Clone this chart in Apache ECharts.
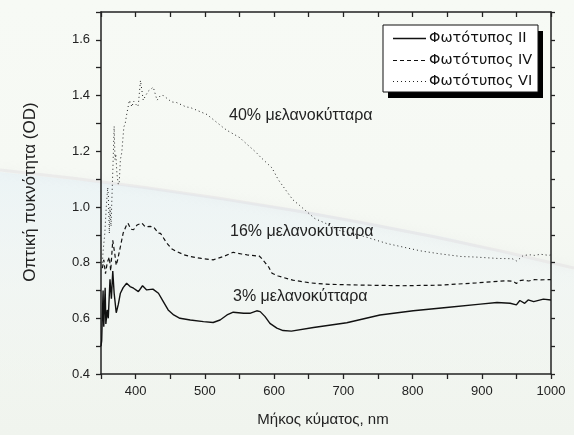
<!DOCTYPE html>
<html>
<head>
<meta charset="utf-8">
<script src="https://cdn.jsdelivr.net/npm/echarts@6/dist/echarts.min.js"></script>
<style>
html,body{margin:0;padding:0;background:#f6f9f4;}
#chart{width:574px;height:435px;}
</style>
</head>
<body>
<div id="chart"></div>
<script>
// ---- data ----
const seriesNames = ['Φωτότυπος II', 'Φωτότυπος IV', 'Φωτότυπος VI'];

const wlII = [350,351,353,354,356,357,359,360.5,363,365,367,369,372,375,378,382,387,392,397,404,410,416,425,433,440,447,455,464,479,498,512,522,532,541,556,565,575,580,587,594,604,613,625,657,705,753,801,849,898,922,941,950,955,962,967,975,989,1000];
const odII = [0.50,0.52,0.70,0.57,0.71,0.58,0.63,0.60,0.74,0.67,0.77,0.69,0.62,0.65,0.69,0.71,0.726,0.714,0.708,0.696,0.717,0.702,0.705,0.69,0.66,0.63,0.612,0.60,0.594,0.588,0.585,0.594,0.612,0.622,0.618,0.618,0.627,0.624,0.606,0.582,0.565,0.556,0.554,0.567,0.584,0.612,0.627,0.639,0.651,0.657,0.654,0.648,0.664,0.654,0.666,0.66,0.669,0.666];

const wlIV = [352,354,356.5,359,362,364,367,370,372,374,378,382,386,389,393,397,402,409,414,421,426,433,436,445,452,459,470,479,495,512,527,541,553,561,574,578,582,587,592,597,606,627,653,680,733,786,839,892,934,945,950,955,960,968,976,985,1000];
const odIV = [0.78,0.81,0.76,0.80,0.82,0.77,0.88,0.83,0.79,0.81,0.857,0.906,0.93,0.942,0.92,0.918,0.935,0.942,0.928,0.93,0.928,0.906,0.905,0.87,0.85,0.84,0.828,0.822,0.815,0.81,0.822,0.837,0.831,0.828,0.824,0.825,0.815,0.80,0.785,0.762,0.752,0.737,0.727,0.722,0.719,0.717,0.719,0.727,0.735,0.733,0.725,0.735,0.737,0.734,0.739,0.738,0.739];

const wlVI = [352,353,355.5,357.6,359.7,360.6,362,363,364.5,366,367.2,369,370.2,371.4,373,375,376.4,378,380,383,385,387.3,389.4,391,394.7,397,399,403,404,407,409,411,414,418.4,420,425.5,428,431,433,436,440,452,459,473,479,500,503,527,532,551,555,574,580,597,606,617,627,637,659,680,690,701,722,733,743,764,786,812,838,870,891,923,944,950,955,960,970,976,985,997,1000];
const odVI = [0.80,0.84,0.905,1.0,1.07,1.04,0.905,1.0,0.93,1.05,1.14,1.29,1.17,1.19,1.12,1.08,1.09,1.17,1.195,1.287,1.30,1.335,1.362,1.383,1.359,1.38,1.383,1.36,1.368,1.454,1.42,1.383,1.398,1.416,1.413,1.43,1.429,1.383,1.386,1.401,1.40,1.377,1.375,1.359,1.357,1.335,1.332,1.284,1.275,1.248,1.238,1.196,1.18,1.14,1.098,1.06,1.026,1.005,0.958,0.935,0.918,0.912,0.899,0.892,0.884,0.868,0.856,0.842,0.832,0.822,0.82,0.815,0.814,0.806,0.815,0.826,0.828,0.826,0.83,0.826,0.828];

const annotations = ['40% μελανοκύτταρα', '16% μελανοκύτταρα', '3% μελανοκύτταρα'];
const xTitle = 'Μήκος κύματος, nm';
const yTitle = 'Οπτική πυκνότητα (OD)';

// ---- chart ----
const zip = (a, b) => a.map((v, i) => [v, b[i]]);
const chart = echarts.init(document.getElementById('chart'), null, {renderer: 'canvas'});
const axisCol = '#222';
const tickFont = {fontFamily: 'Liberation Sans, Arial, sans-serif', fontSize: 13, color: '#222'};
const styles = [
  {color: '#111', width: 1.4, dash: null},
  {color: '#111', width: 1.2, dash: [4, 3]},
  {color: '#222', width: 1.0, dash: [1, 3]}
];
const lineBase = {type: 'line', symbol: 'none', smooth: false, animation: false, z: 5};
const annFont = '16px "Liberation Sans", Arial, sans-serif';

// manual legend (box with solid black drop shadow)
const lg = {x: 383, y: 25, w: 155, h: 67, rows: [38.5, 60.5, 81.5], lx1: 393, lx2: 426, tx: 429};
const legendEls = [
  {type: 'rect', z: 20, silent: true, shape: {x: lg.x + 5, y: lg.y + 6, width: lg.w, height: lg.h}, style: {fill: '#000'}},
  {type: 'rect', z: 21, silent: true, shape: {x: lg.x, y: lg.y, width: lg.w, height: lg.h}, style: {fill: '#fff', stroke: '#111', lineWidth: 1}}
];
seriesNames.forEach((n, i) => {
  legendEls.push({type: 'line', z: 22, silent: true, shape: {x1: lg.lx1, y1: lg.rows[i], x2: lg.lx2, y2: lg.rows[i]},
    style: {stroke: styles[i].color, lineWidth: styles[i].width, lineDash: styles[i].dash}});
  legendEls.push({type: 'text', z: 22, silent: true, x: lg.tx, y: lg.rows[i],
    style: {text: n, font: '14.5px "DejaVu Sans", sans-serif', fill: '#111', textVerticalAlign: 'middle'}});
});

chart.setOption({
  backgroundColor: '#f6f9f4',
  animation: false,
  grid: {left: 101, right: 23, top: 12, bottom: 61},
  xAxis: [
    {type: 'value', min: 350, max: 1000, interval: 50, position: 'bottom',
     axisLine: {onZero: false, lineStyle: {color: axisCol, width: 1.5}},
     axisTick: {show: true, inside: false, length: 5, lineStyle: {color: axisCol, width: 1.3}},
     axisLabel: Object.assign({margin: 11, formatter: v => (Math.round(v) % 100 === 0 ? String(Math.round(v)) : '')}, tickFont),
     splitLine: {show: false}},
    {type: 'value', min: 350, max: 1000, interval: 50, position: 'top',
     axisLine: {onZero: false, lineStyle: {color: axisCol, width: 1.5}},
     axisTick: {show: true, inside: true, length: 5, lineStyle: {color: axisCol, width: 1.3}},
     axisLabel: {show: false}, splitLine: {show: false}}
  ],
  yAxis: [
    {type: 'value', min: 0.4, max: 1.7, interval: 0.1, position: 'left',
     axisLine: {show: true, onZero: false, lineStyle: {color: axisCol, width: 1.5}},
     axisTick: {show: true, inside: false, length: 5, lineStyle: {color: axisCol, width: 1.3}},
     axisLabel: Object.assign({margin: 11, formatter: v => { const k = Math.round(v * 10); return (k % 2 === 0 && k < 17) ? (k / 10).toFixed(1) : ''; }}, tickFont),
     splitLine: {show: false}},
    {type: 'value', min: 0.4, max: 1.7, interval: 0.1, position: 'right',
     axisLine: {show: true, onZero: false, lineStyle: {color: axisCol, width: 1.5}},
     axisTick: {show: true, inside: false, length: 4, lineStyle: {color: axisCol, width: 1.3}},
     axisLabel: {show: false}, splitLine: {show: false}}
  ],
  graphic: [
    {type: 'rect', z: -20, silent: true, shape: {x: 0, y: 0, width: 574, height: 435},
     style: {fill: new echarts.graphic.LinearGradient(0, 0, 0, 1, [
       {offset: 0, color: '#f7faf5'}, {offset: 0.4, color: '#f6f9f4'}, {offset: 1, color: '#f0f4ee'}])}},
    {type: 'polygon', z: -19, silent: true,
     shape: {points: [[0,172],[150,188],[300,210],[450,238],[574,270],[574,435],[0,435]]},
     style: {fill: new echarts.graphic.LinearGradient(0, 0, 0, 1, [
       {offset: 0, color: 'rgba(232,242,246,0.75)'}, {offset: 0.45, color: 'rgba(238,244,245,0.4)'}, {offset: 1, color: 'rgba(240,244,238,0)'}])}},
    {type: 'bezierCurve', z: -18, silent: true,
     shape: {x1: 0, y1: 170, cpx1: 200, cpy1: 191, cpx2: 400, cpy2: 226, x2: 574, y2: 268},
     style: {stroke: 'rgba(222,218,222,0.4)', lineWidth: 3, shadowBlur: 8, shadowColor: 'rgba(215,212,216,0.45)', fill: null}},
    {type: 'text', z: 10, x: 229, y: 116, style: {text: annotations[0], font: annFont, fill: '#222', textVerticalAlign: 'middle'}},
    {type: 'text', z: 10, x: 230, y: 232, style: {text: annotations[1], font: annFont, fill: '#222', textVerticalAlign: 'middle'}},
    {type: 'text', z: 10, x: 233, y: 297, style: {text: annotations[2], font: annFont, fill: '#222', textVerticalAlign: 'middle'}},
    {type: 'text', z: 10, x: 323, y: 420,
     style: {text: xTitle, font: '15px "Liberation Sans", Arial, sans-serif', fill: '#222', textAlign: 'center', textVerticalAlign: 'middle'}},
    {type: 'text', z: 10, rotation: Math.PI / 2, x: 30, y: 192,
     style: {text: yTitle, font: '17px "Liberation Sans", Arial, sans-serif', fill: '#222', textAlign: 'center', textVerticalAlign: 'middle'}}
  ].concat(legendEls),
  series: seriesNames.map((n, i) => Object.assign({}, lineBase, {
    name: n,
    data: [zip(wlII, odII), zip(wlIV, odIV), zip(wlVI, odVI)][i],
    lineStyle: {color: styles[i].color, width: styles[i].width, type: styles[i].dash || 'solid'},
    itemStyle: {color: styles[i].color}
  }))
});
</script>
</body>
</html>
